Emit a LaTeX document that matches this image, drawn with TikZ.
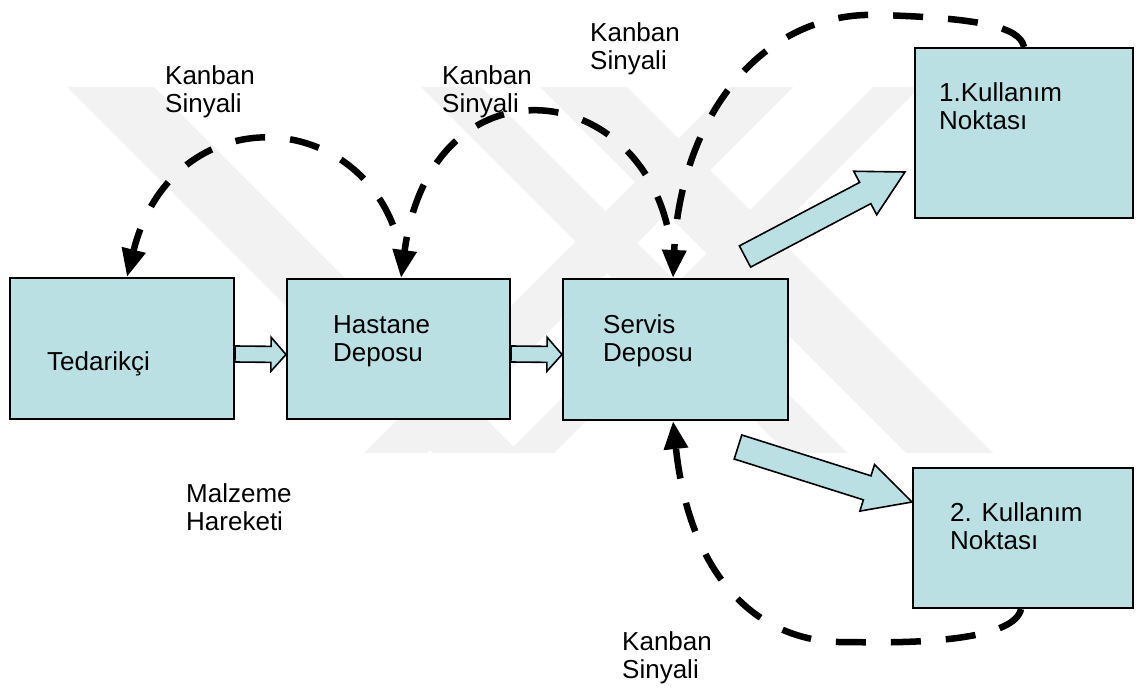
\documentclass[tikz,border=0pt]{standalone}
\usepackage{fontspec}
\setmainfont{Liberation Sans}
\usetikzlibrary{arrows.meta,calc}
\definecolor{boxfill}{RGB}{186,224,228}
\definecolor{wm}{RGB}{242,242,242}

% block arrow between two coordinates: tail, tip, shaft half width, head half width, head length
\newcommand{\flowarrow}[5]{%
  \draw[flow] ($(#1)!#3!90:(#2)$) -- ($($(#2)!#5!(#1)$)!#3!-90:(#1)$)
    -- ($($(#2)!#5!(#1)$)!#4!-90:(#1)$) -- (#2)
    -- ($($(#2)!#5!(#1)$)!#4!90:(#1)$) -- ($($(#2)!#5!(#1)$)!#3!90:(#1)$)
    -- ($(#1)!#3!-90:(#2)$) -- cycle;}

\begin{document}
\begin{tikzpicture}[x=1bp,y=-1bp,
  stage/.style={draw=black, line width=2bp, fill=boxfill, rectangle, inner sep=0pt},
  lbl/.style={anchor=base west, inner sep=0pt, font=\fontsize{26bp}{28bp}\selectfont},
  flow/.style={draw=black, line width=1.6bp, fill=boxfill, line join=miter},
  signal/.style={line width=6.5bp, dash pattern=on 30bp off 25bp,
    -{Triangle[length=28bp,width=23bp]}},
  wmband/.style={fill=wm, draw=none}
]
\useasboundingbox (0,0) rectangle (1139,691);
\fill[white] (0,0) rectangle (1139,691);

% faint background emblem
\fill[wmband] (67,87) -- (154,87) -- (520,453) -- (433,453) -- cycle;
\fill[wmband] (421,87) -- (481,87) -- (847,453) -- (787,453) -- cycle;
\fill[wmband] (540,87) -- (627,87) -- (993,453) -- (906,453) -- cycle;
\fill[wmband] (730,87) -- (793,87) -- (427,453) -- (364,453) -- cycle;
\fill[wmband] (873,87) -- (920,87) -- (554,453) -- (507,453) -- cycle;

% stages
\node[stage, minimum width=224bp, minimum height=141bp] (ted) at (122,348.5) {};
\node[stage, minimum width=223bp, minimum height=140bp] (hast) at (398.5,349) {};
\node[stage, minimum width=225bp, minimum height=141bp] (serv) at (675.5,349.5) {};
\node[stage, minimum width=218bp, minimum height=170bp] (kul1) at (1024,133) {};
\node[stage, minimum width=220bp, minimum height=140bp] (kul2) at (1023,538) {};

% texts inside the stages
\node[lbl] (tedt) at (47,370) {Tedarikçi};
\node[lbl] (hastt1) at (333,333) {Hastane};
\node[lbl] (hastt2) at (333,361) {Deposu};
\node[lbl] (servt1) at (603,333) {Servis};
\node[lbl] (servt2) at (603,361) {Deposu};
\node[lbl] (kul1t1) at (939,102) {1.Kullanım};
\node[lbl] (kul1t2) at (939,130) {Noktası};
\node[lbl] (kul2t1) at (950,521) {2. Kullanım};
\node[lbl] (kul2t2) at (950,549) {Noktası};

% free labels
\node[lbl] (ka1) at (165,85) {Kanban};
\node[lbl] (kb1) at (165,113) {Sinyali};
\node[lbl] (ka2) at (442,85) {Kanban};
\node[lbl] (kb2) at (442,113) {Sinyali};
\node[lbl] (ka3) at (590,42) {Kanban};
\node[lbl] (kb3) at (590,70) {Sinyali};
\node[lbl] (ka4) at (622,650) {Kanban};
\node[lbl] (kb4) at (622,678) {Sinyali};
\node[lbl] (ma) at (186,502) {Malzeme};
\node[lbl] (mb) at (186,530) {Hareketi};

% material flow
\flowarrow{[yshift=-5.5bp]ted.east}{[yshift=-5.5bp]hast.west}{8bp}{17bp}{15bp}
\flowarrow{[yshift=-5bp]hast.east}{[yshift=-5bp]serv.west}{8bp}{17bp}{15bp}
\coordinate (fa) at (745,256.5);
\coordinate (fb) at (905,172);
\coordinate (fc) at (738,447);
\coordinate (fd) at (912,502);
\flowarrow{fa}{fb}{12bp}{24.6bp}{45bp}
\flowarrow{fc}{fd}{12.6bp}{24.4bp}{47bp}

% kanban signals
\coordinate (s1) at (393,225);
\coordinate (s2) at (667,225);
\draw[signal] (s1) .. controls (345,104) and (170,104) .. ([xshift=118bp]ted.north west);
\draw[signal] (s2) .. controls (630,75) and (430,60) .. ([xshift=115bp]hast.north west);
\draw[signal] ([xshift=110bp]kul1.north west) .. controls (1020,26) and (975,18) .. (880,15)
  .. controls (760,10) and (680,120) .. ([xshift=111bp]serv.north west);
\draw[signal] ([xshift=109bp]kul2.south west) .. controls (1015,638) and (930,644) .. (850,642)
  .. controls (760,645) and (690,580) .. ([xshift=111bp]serv.south west);
\end{tikzpicture}
\end{document}
